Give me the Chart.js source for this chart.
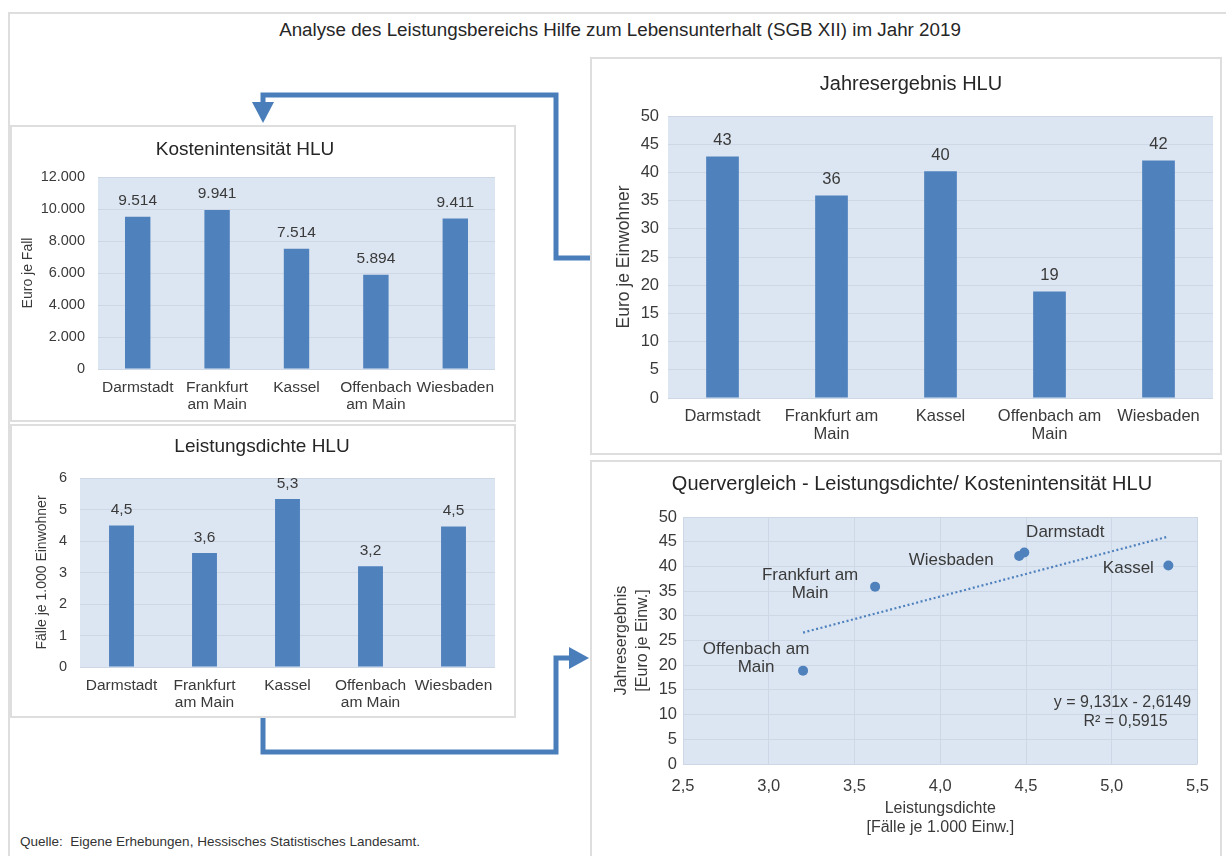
<!DOCTYPE html>
<html lang="de">
<head>
<meta charset="utf-8">
<title>Analyse HLU 2019</title>
<script src="https://cdn.jsdelivr.net/npm/chart.js@4.4.1/dist/chart.umd.min.js"></script>
<style>
  html, body { margin: 0; padding: 0; background: #fff; width: 1226px; height: 856px; overflow: hidden; }
  body { font-family: 'Liberation Sans', Arial, sans-serif; color: #333; position: relative; }
  #frame { position: absolute; left: 8px; top: 12px; width: 1230px; height: 870px; border: 2px solid #dedede; box-sizing: border-box; }
  #mainTitle { position: absolute; left: 0; top: 19px; width: 1240px; text-align: center; font-size: 18.8px; color: #262626; }
  #source { position: absolute; left: 20px; top: 834px; font-size: 13.5px; color: #333; }
  .panel { position: absolute; background: #fff; }
  .panel::after { content: ''; position: absolute; inset: 0; border: 2px solid #dedede; pointer-events: none; }
  .panel canvas { position: absolute; left: 0; top: 0; }
  #arrows { position: absolute; left: 0; top: 0; }
</style>
</head>
<body>
<div id="frame"></div>
<div id="mainTitle">Analyse des Leistungsbereichs Hilfe zum Lebensunterhalt (SGB XII) im Jahr 2019</div>

<svg id="arrows" width="1226" height="856">
  <g fill="none" stroke="#4a7ebb" stroke-width="5" stroke-linejoin="miter">
    <polyline points="590,258 556,258 556,95 263,95 263,104"/>
    <polyline points="263,716 263,752 556,752 556,658 572,658"/>
  </g>
  <g fill="#4a7ebb">
    <polygon points="252,102 274,102 263,123"/>
    <polygon points="569,647 569,669 589,658"/>
  </g>
</svg>

<div class="panel" style="left:10px;top:125px;width:506px;height:297px"><canvas id="cKosten" width="506" height="297"></canvas></div>
<div class="panel" style="left:10px;top:424px;width:506px;height:294px"><canvas id="cDichte" width="506" height="294"></canvas></div>
<div class="panel" style="left:590px;top:57px;width:632px;height:398px"><canvas id="cJahr" width="632" height="398"></canvas></div>
<div class="panel" style="left:590px;top:460px;width:632px;height:400px"><canvas id="cQuer" width="632" height="400"></canvas></div>

<div id="source">Quelle:&nbsp; Eigene Erhebungen, Hessisches Statistisches Landesamt.</div>

<script>
// ---- Daten ----
const staedte = ['Darmstadt', 'Frankfurt am Main', 'Kassel', 'Offenbach am Main', 'Wiesbaden'];
const achsenLabelsSchmal = ['Darmstadt', ['Frankfurt', 'am Main'], 'Kassel', ['Offenbach', 'am Main'], 'Wiesbaden'];
const achsenLabelsBreit = ['Darmstadt', ['Frankfurt am', 'Main'], 'Kassel', ['Offenbach am', 'Main'], 'Wiesbaden'];
// Euro je Fall
const kostenintensitaet = [9514, 9941, 7514, 5894, 9411];
// Fälle je 1.000 Einwohner
const leistungsdichte = [4.49, 3.62, 5.33, 3.2, 4.46];
// Euro je Einwohner
const jahresergebnis = [42.8, 35.9, 40.2, 18.9, 42.1];
// lineare Trendlinie (Excel)
const trendSteigung = 9.131;
const trendAchsenabschnitt = -2.6149;
const trendBestimmtheit = 0.5915;

// ---- Formatierung (deutsch) ----
function fmtDe(v, dec) {
  const s = Number(v).toFixed(dec);
  let [i, f] = s.split('.');
  i = i.replace(/\B(?=(\d{3})+(?!\d))/g, '.');
  return f ? i + ',' + f : i;
}

const FONT = "'Liberation Sans', Arial, sans-serif";
const TXT = '#3a3a3a';
const BAR = '#4f81bd';
const PLOT_BG = '#dce6f2';
const GRID = '#cdd7e5';
Chart.defaults.font.family = FONT;
Chart.defaults.color = TXT;

// Hintergrund der Zeichenfläche
const plotBackground = {
  id: 'plotBackground',
  beforeDraw(chart) {
    const { ctx, chartArea: a } = chart;
    ctx.save();
    ctx.fillStyle = PLOT_BG;
    ctx.fillRect(a.left, a.top, a.right - a.left, a.bottom - a.top);
    ctx.restore();
  }
};

// Diagrammtitel an fester Stelle
const panelTitle = {
  id: 'panelTitle',
  afterDraw(chart, args, o) {
    const { ctx } = chart;
    ctx.save();
    ctx.font = `${o.size}px ${FONT}`;
    ctx.fillStyle = '#262626';
    ctx.textAlign = 'center';
    ctx.textBaseline = 'middle';
    ctx.fillText(o.text, o.x, o.y);
    ctx.restore();
  }
};

// Werte über den Säulen
const valueLabels = {
  id: 'valueLabels',
  afterDatasetsDraw(chart, args, o) {
    const { ctx } = chart;
    const ds = chart.data.datasets[0];
    const meta = chart.getDatasetMeta(0);
    ctx.save();
    ctx.font = `${o.size}px ${FONT}`;
    ctx.fillStyle = TXT;
    ctx.textAlign = 'center';
    ctx.textBaseline = 'bottom';
    meta.data.forEach((bar, i) => {
      ctx.fillText(fmtDe(ds.data[i], o.dec), bar.x, bar.y - o.gap);
    });
    ctx.restore();
  }
};

function barChart(id, labels, values, o) {
  const canvas = document.getElementById(id);
  const W = canvas.width, H = canvas.height;
  const a = o.area;
  return new Chart(canvas, {
    type: 'bar',
    data: {
      labels,
      datasets: [{ data: values, backgroundColor: BAR, borderWidth: 0,
        barPercentage: o.barPct, categoryPercentage: 1 }]
    },
    options: {
      responsive: false,
      animation: false,
      events: [],
      layout: { padding: { left: o.axisLeft, right: W - a.right, top: a.top, bottom: 0 } },
      plugins: {
        legend: { display: false },
        tooltip: { enabled: false },
        panelTitle: o.title,
        valueLabels: { dec: o.dec, size: o.valueSize, gap: o.gap }
      },
      scales: {
        x: {
          grid: { display: false, drawTicks: false },
          border: { display: false },
          ticks: { font: { size: o.xSize, lineHeight: o.xLh }, color: TXT, padding: o.xPad,
            maxRotation: 0, autoSkip: false },
          afterFit(s) { s.height = H - a.bottom; }
        },
        y: {
          min: 0, max: o.max,
          grid: { color: GRID, lineWidth: 1, drawTicks: false },
          border: { display: false },
          ticks: { stepSize: o.step, font: { size: o.ySize }, color: TXT, padding: o.yPad,
            callback: v => fmtDe(v, 0) },
          title: { display: true, text: o.yTitle, color: TXT,
            font: { size: o.yTitleSize, lineHeight: 1.2 }, padding: 0 },
          afterFit(s) { s.width = a.left - o.axisLeft; }
        }
      }
    },
    plugins: [plotBackground, panelTitle, valueLabels]
  });
}

// Kostenintensität
barChart('cKosten', achsenLabelsSchmal, kostenintensitaet, {
  area: { left: 88, right: 485, top: 52, bottom: 244 },
  axisLeft: 10, barPct: 0.32, max: 12000, step: 2000,
  xSize: 15.5, xLh: 1.1, xPad: 10.5, ySize: 14.5, yPad: 13,
  yTitle: 'Euro je Fall', yTitleSize: 14,
  dec: 0, valueSize: 15.5, gap: 8,
  title: { text: 'Kostenintensität HLU', x: 235, y: 25, size: 19 }
});

// Leistungsdichte
barChart('cDichte', achsenLabelsSchmal, leistungsdichte, {
  area: { left: 70, right: 485, top: 54, bottom: 243 },
  axisLeft: 24, barPct: 0.3, max: 6, step: 1,
  xSize: 15.5, xLh: 1.1, xPad: 10.5, ySize: 14.5, yPad: 13,
  yTitle: 'Fälle je 1.000 Einwohner', yTitleSize: 14,
  dec: 1, valueSize: 15.5, gap: 8,
  title: { text: 'Leistungsdichte HLU', x: 252, y: 23, size: 19 }
});

// Jahresergebnis
barChart('cJahr', achsenLabelsBreit, jahresergebnis, {
  area: { left: 78, right: 623, top: 59, bottom: 341 },
  axisLeft: 24, barPct: 0.3, max: 50, step: 5,
  xSize: 16.5, xLh: 1.1, xPad: 9, ySize: 16.5, yPad: 9,
  yTitle: 'Euro je Einwohner', yTitleSize: 17.5,
  dec: 0, valueSize: 16.5, gap: 8,
  title: { text: 'Jahresergebnis HLU', x: 321, y: 27, size: 20 }
});

// Quervergleich (Streudiagramm)
const punktLabelLage = {
  'Darmstadt':         { dx: 41,  dy: -20, align: 'center' },
  'Wiesbaden':         { dx: -68, dy: 4,   align: 'center' },
  'Frankfurt am Main': { dx: -65, dy: -11, align: 'center', lines: ['Frankfurt am', 'Main'] },
  'Kassel':            { dx: -40, dy: 3,   align: 'center' },
  'Offenbach am Main': { dx: -47, dy: -21, align: 'center', lines: ['Offenbach am', 'Main'] }
};

const pointLabels = {
  id: 'pointLabels',
  afterDatasetsDraw(chart) {
    const { ctx } = chart;
    const meta = chart.getDatasetMeta(0);
    ctx.save();
    ctx.font = `17px ${FONT}`;
    ctx.fillStyle = TXT;
    ctx.textBaseline = 'middle';
    meta.data.forEach((pt, i) => {
      const name = staedte[i];
      const l = punktLabelLage[name];
      ctx.textAlign = l.align;
      (l.lines || [name]).forEach((t, k) => ctx.fillText(t, pt.x + l.dx, pt.y + l.dy + k * 18));
    });
    ctx.restore();
  }
};

const trendText = {
  id: 'trendText',
  afterDatasetsDraw(chart) {
    const { ctx, chartArea: a } = chart;
    ctx.save();
    ctx.font = `16px ${FONT}`;
    ctx.fillStyle = TXT;
    ctx.textAlign = 'center';
    ctx.textBaseline = 'middle';
    const b = trendAchsenabschnitt < 0 ? ' - ' + fmtDe(-trendAchsenabschnitt, 4) : ' + ' + fmtDe(trendAchsenabschnitt, 4);
    ctx.fillText('y = ' + fmtDe(trendSteigung, 3) + 'x' + b, a.right - 75, a.bottom - 61);
    ctx.fillText('R² = ' + fmtDe(trendBestimmtheit, 4), a.right - 72, a.bottom - 42);
    ctx.restore();
  }
};

(function () {
  const canvas = document.getElementById('cQuer');
  const W = canvas.width, H = canvas.height;
  const a = { left: 93, right: 618, top: 57, bottom: 304 };
  const punkte = leistungsdichte.map((x, i) => ({ x, y: jahresergebnis[i] }));
  const xMin = Math.min(...leistungsdichte), xMax = Math.max(...leistungsdichte);
  const trend = [xMin, xMax].map(x => ({ x, y: trendSteigung * x + trendAchsenabschnitt }));
  const axisLeft = 21, axisBottom = 377;
  new Chart(canvas, {
    type: 'scatter',
    data: {
      datasets: [
        { data: punkte, backgroundColor: BAR, borderColor: BAR, pointRadius: 5, pointBorderWidth: 0 },
        { type: 'line', data: trend, borderColor: BAR, borderWidth: 2.2, borderDash: [2, 2.5],
          pointRadius: 0, fill: false }
      ]
    },
    options: {
      responsive: false,
      animation: false,
      events: [],
      layout: { padding: { left: axisLeft, right: W - a.right, top: a.top, bottom: H - axisBottom } },
      plugins: {
        legend: { display: false },
        tooltip: { enabled: false },
        panelTitle: { text: 'Quervergleich - Leistungsdichte/ Kostenintensität HLU', x: 322, y: 24, size: 20 }
      },
      scales: {
        x: {
          type: 'linear', min: 2.5, max: 5.5,
          grid: { color: GRID, drawTicks: false },
          border: { display: false },
          ticks: { stepSize: 0.5, font: { size: 16.5 }, color: TXT, padding: 13,
            callback: v => fmtDe(v, 1) },
          title: { display: true, text: ['Leistungsdichte', '[Fälle je 1.000 Einw.]'], color: TXT,
            font: { size: 16, lineHeight: 1.2 }, padding: 0 },
          afterFit(s) { s.height = axisBottom - a.bottom; }
        },
        y: {
          min: 0, max: 50,
          grid: { color: GRID, drawTicks: false },
          border: { display: false },
          ticks: { stepSize: 5, font: { size: 16.5 }, color: TXT, padding: 6 },
          title: { display: true, text: ['Jahresergebnis', '[Euro je Einw.]'], color: TXT,
            font: { size: 16, lineHeight: 1.3 }, padding: 0 },
          afterFit(s) { s.width = a.left - axisLeft; }
        }
      }
    },
    plugins: [plotBackground, panelTitle, pointLabels, trendText]
  });
})();
</script>
</body>
</html>
